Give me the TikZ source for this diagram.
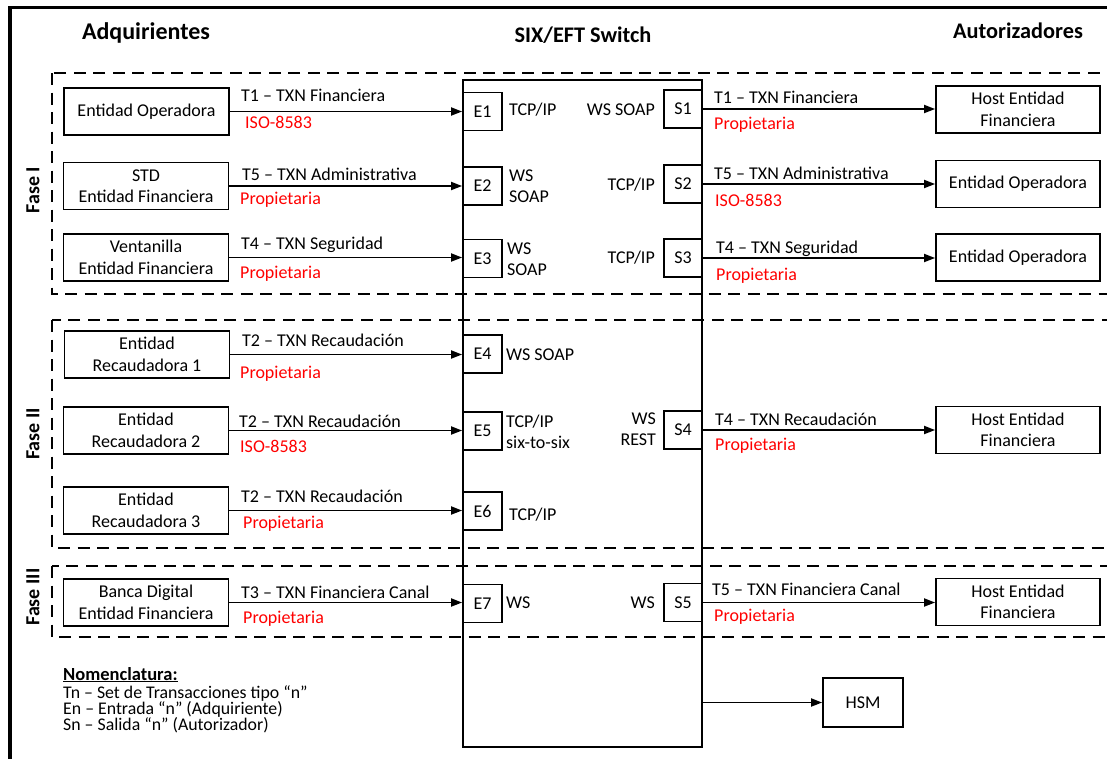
\documentclass[tikz,border=0pt]{standalone}
\usepackage{fontspec}
\setmainfont{Carlito}
\usetikzlibrary{arrows.meta}

\newcommand\bodysize{\fontsize{18}{21.5}\selectfont}
\newcommand\headsize{\fontsize{22.3}{26}\selectfont\bfseries}
\newcommand\phasesize{\fontsize{20}{24}\selectfont\bfseries}
\newcommand\notesize{\fontsize{17.8}{16.3}\selectfont}

\tikzset{
  every node/.style={inner sep=0pt, font=\bodysize},
  frame/.style={line width=3.5pt},
  entity/.style={draw, line width=1.8pt, minimum width=165pt, minimum height=47pt, align=center},
  port/.style={draw, fill=white, line width=1.8pt, minimum width=39pt, minimum height=38pt},
  switchbox/.style={draw, line width=1.8pt},
  phasebox/.style={draw, line width=1.8pt, dash pattern=on 12pt off 7.5pt},
  link/.style={line width=1.8pt, -{Triangle[length=11pt,width=8pt]}},
  txn/.style={anchor=base west},
  proto/.style={anchor=base west, text=red},
  iface/.style={align=left},
  head/.style={anchor=base, font=\headsize},
  phaselabel/.style={rotate=90, font=\phasesize},
}

\begin{document}
\begin{tikzpicture}[x=1pt, y=-1pt]
\useasboundingbox (0,0) rectangle (1107,758);
\clip (0,0) rectangle (1107,758);

% outer frame (left and top edges)
\draw[frame] (10,760) -- (10,7.5) -- (1110,7.5);

% column headings
\node[head, font=\fontsize{24}{28}\selectfont\bfseries] (hAdq) at (146,39.5) {Adquirientes};
\node[head] (hSw)  at (583,42.5) {SIX/EFT Switch};
\node[head] (hAut) at (1018,38.5) {Autorizadores};

% phase regions
\draw[phasebox] (52,73)  rectangle (1125,294);
\draw[phasebox] (52,320) rectangle (1125,548);
\draw[phasebox] (52,566) rectangle (1125,637);
\node[phaselabel] (f1) at (33,190) {Fase I};
\node[phaselabel] (f2) at (33,434) {Fase II};
\node[phaselabel] (f3) at (33,597) {Fase III};

% switch
\node[switchbox, minimum width=239pt, minimum height=667pt] (sw) at (582.5,413.5) {};

% acquirers
\node[entity] (a1) at (146.5,111.5) {Entidad Operadora};
\node[entity] (a2) at (146,186)   {STD\\Entidad Financiera};
\node[entity] (a3) at (146,257.5) {Ventanilla\\Entidad Financiera};
\node[entity] (a4) at (147,354.5) {Entidad\\Recaudadora 1};
\node[entity] (a5) at (146,430.5) {Entidad\\Recaudadora 2};
\node[entity] (a6) at (146,510.5) {Entidad\\Recaudadora 3};
\node[entity] (a7) at (146,602.5) {Banca Digital\\Entidad Financiera};

% switch inputs
\node[port] (e1) at (482.5,111.5) {E1};
\node[port] (e2) at (482.5,186)   {E2};
\node[port] (e3) at (482.5,258.5) {E3};
\node[port] (e4) at (482.5,354)   {E4};
\node[port] (e5) at (482.5,431)   {E5};
\node[port] (e6) at (482.5,511)   {E6};
\node[port] (e7) at (482.5,603.5) {E7};

% switch outputs
\node[port, minimum width=38pt] (s1) at (683,109)   {S1};
\node[port, minimum width=38pt] (s2) at (683,184)   {S2};
\node[port, minimum width=38pt] (s3) at (683,258)   {S3};
\node[port, minimum width=38pt] (s4) at (683,430)   {S4};
\node[port, minimum width=38pt] (s5) at (683,602.5) {S5};

% authorizers
\node[entity, minimum width=164pt] (b1) at (1018,109.5) {Host Entidad\\Financiera};
\node[entity, minimum width=164pt] (b2) at (1018,184)   {Entidad Operadora};
\node[entity, minimum width=164pt] (b3) at (1018,257.5) {Entidad Operadora};
\node[entity, minimum width=164pt] (b4) at (1018,430)   {Host Entidad\\Financiera};
\node[entity, minimum width=164pt] (b5) at (1018,602)   {Host Entidad\\Financiera};

\node[draw, line width=1.8pt, minimum width=80pt, minimum height=49pt] (hsm) at (863,702.5) {HSM};

% interfaces of the inputs
\node[anchor=base west] (pe1) at (509,115) {TCP/IP};
\node[iface, anchor=west] (pe2) at (509,186) {WS\\SOAP};
\node[iface, anchor=west] (pe3) at (507,259) {WS\\SOAP};
\node[anchor=base west] (pe4) at (506,360) {WS SOAP};
\node[iface, anchor=west] (pe5) at (506,432) {TCP/IP\\six-to-six};
\node[anchor=base west] (pe6) at (509,520) {TCP/IP};
\node[anchor=base west] (pe7) at (506,608) {WS};

% interfaces of the outputs
\node[anchor=base east] (ps1) at (655,115) {WS SOAP};
\node[anchor=base east] (ps2) at (655,190) {TCP/IP};
\node[anchor=base east] (ps3) at (655,263) {TCP/IP};
\node[iface, align=right, anchor=east] (ps4) at (656,429) {WS\\REST};
\node[anchor=base east] (ps5) at (655,608) {WS};

% acquirer -> switch links
\draw[link] (a1.east) -- (a1.east -| e1.west);
\draw[link] (a2.east) -- (a2.east -| e2.west);
\draw[link] (a3.east) -- (a3.east -| e3.west);
\draw[link] (a4.east) -- (a4.east -| e4.west);
\draw[link] (a5.east) -- (a5.east -| e5.west);
\draw[link] (a6.east) -- (a6.east -| e6.west);
\draw[link] (a7.east) -- (a7.east -| e7.west);

% switch -> authorizer links
\draw[link] (s1.east) -- (s1.east -| b1.west);
\draw[link] (s2.east) -- (s2.east -| b2.west);
\draw[link] (s3.east) -- (s3.east -| b3.west);
\draw[link] (s4.east) -- (s4.east -| b4.west);
\draw[link] (s5.east) -- (s5.east -| b5.west);
\draw[link] (hsm.west -| sw.east) -- (hsm.west);

% transaction sets, left side
\node[txn]   (t1)  at (241,101)   {T1 – TXN Financiera};
\node[proto] (r1)  at (245,128)   {ISO-8583};
\node[txn]   (t2)  at (242,180)   {T5 – TXN Administrativa};
\node[proto] (r2)  at (240,204)   {Propietaria};
\node[txn]   (t3)  at (241,249)   {T4 – TXN Seguridad};
\node[proto] (r3)  at (240,278)   {Propietaria};
\node[txn]   (t4)  at (242,346)   {T2 – TXN Recaudación};
\node[proto] (r4)  at (240,378)   {Propietaria};
\node[txn]   (t5)  at (239,427)   {T2 – TXN Recaudación};
\node[proto] (r5)  at (240,452)   {ISO-8583};
\node[txn]   (t6)  at (241,502)   {T2 – TXN Recaudación};
\node[proto] (r6)  at (243,528)   {Propietaria};
\node[txn]   (t7)  at (241,598)   {T3 – TXN Financiera Canal};
\node[proto] (r7)  at (243,623)   {Propietaria};

% transaction sets, right side
\node[txn]   (u1)  at (714,103.5) {T1 – TXN Financiera};
\node[proto] (q1)  at (714,129)   {Propietaria};
\node[txn]   (u2)  at (714,179)   {T5 – TXN Administrativa};
\node[proto] (q2)  at (715,206)   {ISO-8583};
\node[txn]   (u3)  at (716,253)   {T4 – TXN Seguridad};
\node[proto] (q3)  at (716,280)   {Propietaria};
\node[txn]   (u4)  at (715,425)   {T4 – TXN Recaudación};
\node[proto] (q4)  at (715,450)   {Propietaria};
\node[txn]   (u5)  at (712,595)   {T5 – TXN Financiera Canal};
\node[proto] (q5)  at (714,621)   {Propietaria};

% legend
\node[anchor=base west, font=\fontsize{18.5}{20}\selectfont\bfseries] (nom) at (63,680) {\underline{Nomenclatura:}};
\node[anchor=base west, font=\notesize] (n1) at (63,698) {Tn – Set de Transacciones tipo “n”};
\node[anchor=base west, font=\notesize] (n2) at (63,714) {En – Entrada “n” (Adquiriente)};
\node[anchor=base west, font=\notesize] (n3) at (63,730) {Sn – Salida “n” (Autorizador)};
\end{tikzpicture}
\end{document}
